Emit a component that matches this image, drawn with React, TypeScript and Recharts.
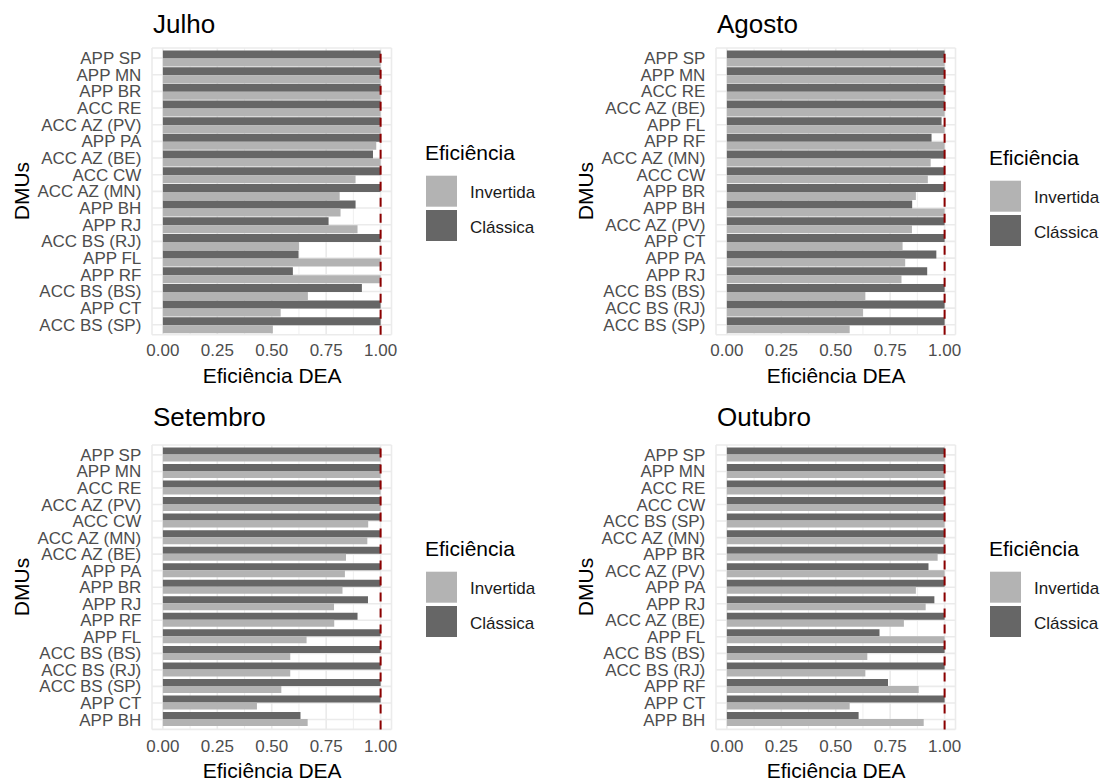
import { Bar, BarChart, CartesianGrid, ReferenceLine, XAxis, YAxis } from "recharts";

const julhoDmus = ["APP SP", "APP MN", "APP BR", "ACC RE", "ACC AZ (PV)", "APP PA", "ACC AZ (BE)", "ACC CW", "ACC AZ (MN)", "APP BH", "APP RJ", "ACC BS (RJ)", "APP FL", "APP RF", "ACC BS (BS)", "APP CT", "ACC BS (SP)"];
const julhoClassica = [1, 1, 1, 1, 1, 1, 0.965, 1, 1, 0.885, 0.761, 1, 0.623, 0.597, 0.914, 1, 1];
const julhoInvertida = [1, 1, 1, 1, 1, 0.98, 1, 0.885, 0.812, 0.816, 0.894, 0.625, 1, 1, 0.666, 0.541, 0.505];

const agostoDmus = ["APP SP", "APP MN", "ACC RE", "ACC AZ (BE)", "APP FL", "APP RF", "ACC AZ (MN)", "ACC CW", "APP BR", "APP BH", "ACC AZ (PV)", "APP CT", "APP PA", "APP RJ", "ACC BS (BS)", "ACC BS (RJ)", "ACC BS (SP)"];
const agostoClassica = [1, 1, 1, 1, 0.986, 0.94, 1, 1, 1, 0.851, 1, 1, 0.962, 0.92, 1, 1, 1];
const agostoInvertida = [1, 1, 1, 1, 1, 1, 0.936, 0.923, 0.868, 1, 0.85, 0.807, 0.819, 0.802, 0.636, 0.625, 0.564];

const setembroDmus = ["APP SP", "APP MN", "ACC RE", "ACC AZ (PV)", "ACC CW", "ACC AZ (MN)", "ACC AZ (BE)", "APP PA", "APP BR", "APP RJ", "APP RF", "APP FL", "ACC BS (BS)", "ACC BS (RJ)", "ACC BS (SP)", "APP CT", "APP BH"];
const setembroClassica = [1, 1, 1, 1, 1, 1, 1, 1, 1, 0.942, 0.894, 1, 1, 1, 1, 1, 0.632];
const setembroInvertida = [1, 1, 1, 1, 0.943, 0.939, 0.841, 0.836, 0.825, 0.786, 0.787, 0.66, 0.585, 0.585, 0.544, 0.432, 0.665];

const outubroDmus = ["APP SP", "APP MN", "ACC RE", "ACC CW", "ACC BS (SP)", "ACC AZ (MN)", "APP BR", "ACC AZ (PV)", "APP PA", "APP RJ", "ACC AZ (BE)", "APP FL", "ACC BS (BS)", "ACC BS (RJ)", "APP RF", "APP CT", "APP BH"];
const outubroClassica = [1, 1, 1, 1, 1, 1, 1, 0.926, 1, 0.953, 1, 0.701, 1, 1, 0.74, 1, 0.605];
const outubroInvertida = [1, 1, 1, 1, 1, 1, 0.968, 1, 0.868, 0.913, 0.813, 1, 0.645, 0.636, 0.881, 0.564, 0.904];

const xTicks = [0, 0.25, 0.5, 0.75, 1];
const minorTicks = [0.125, 0.375, 0.625, 0.875];
const xDomain: [number, number] = [-0.05, 1.05];

const LIGHT = "#b3b3b3";
const DARK = "#666666";
const GRID = "#ebebeb";
const FONT = '"Liberation Sans", Arial, sans-serif';
const Y_AXIS_W = 150;

interface PanelProps {
  title: string;
  dmus: string[];
  classica: number[];
  invertida: number[];
  plotLeft: number;
  plotTop: number;
  plotWidth: number;
  plotHeight: number;
  titleY: number;
  axisTitleY: number;
  tickMargin: number;
  legendDx: number;
  legendDy: number;
}

function Panel(p: PanelProps) {
  const data = p.dmus.map((dmu, i) => ({ dmu, classica: p.classica[i], invertida: p.invertida[i] }));
  const band = p.plotHeight / (p.dmus.length + 0.2);
  const pad = band * 0.1;
  const width = p.plotWidth + Y_AXIS_W + 10;
  const height = p.plotHeight + 10 + 30;
  const centerX = p.plotLeft + p.plotWidth / 2;
  const centerY = p.plotTop + p.plotHeight / 2;

  const minorGen = ({ xAxis, offset }: any) =>
    minorTicks.map((t) =>
      xAxis && typeof xAxis.scale === "function"
        ? xAxis.scale(t)
        : offset.left + ((t - xDomain[0]) / (xDomain[1] - xDomain[0])) * offset.width
    );

  return (
    <>
      <div style={{ position: "absolute", left: p.plotLeft - Y_AXIS_W, top: p.plotTop - 10 }}>
        <BarChart
          width={width}
          height={height}
          data={data}
          layout="vertical"
          barCategoryGap="5%"
          barGap={0}
          margin={{ top: 10, right: 10, bottom: 0, left: 0 }}
        >
          <CartesianGrid horizontal={false} stroke={GRID} strokeWidth={0.8} verticalCoordinatesGenerator={minorGen} />
          <CartesianGrid stroke={GRID} strokeWidth={1.6} />
          <XAxis
            type="number"
            domain={xDomain}
            ticks={xTicks}
            tickFormatter={(v: number) => v.toFixed(2)}
            axisLine={false}
            tickLine={false}
            tickSize={0}
            tickMargin={p.tickMargin}
            height={30}
            tick={{ fill: "#4d4d4d", fontSize: 17 }}
          />
          <YAxis
            type="category"
            dataKey="dmu"
            width={Y_AXIS_W}
            interval={0}
            axisLine={false}
            tickLine={false}
            tickSize={0}
            tickMargin={10.7}
            padding={{ top: pad, bottom: pad }}
            tick={{ fill: "#4d4d4d", fontSize: 17 }}
          />
          <Bar dataKey="classica" name="Clássica" fill={DARK} isAnimationActive={false} />
          <Bar dataKey="invertida" name="Invertida" fill={LIGHT} isAnimationActive={false} />
          <ReferenceLine x={1} stroke="#8b0000" strokeWidth={2} strokeDasharray="9 7" />
        </BarChart>
      </div>
      <svg
        width={1103}
        height={780}
        style={{ position: "absolute", left: 0, top: 0, pointerEvents: "none", fontFamily: FONT }}
      >
        <text x={p.plotLeft + 0.6} y={p.titleY} fontSize={26} fill="#000">
          {p.title}
        </text>
        <text x={centerX} y={p.axisTitleY} fontSize={21} fill="#000" textAnchor="middle">
          Eficiência DEA
        </text>
        <text
          x={p.plotLeft - 123.5}
          y={centerY}
          fontSize={21}
          fill="#000"
          textAnchor="middle"
          transform={`rotate(-90 ${p.plotLeft - 123.5} ${centerY})`}
        >
          DMUs
        </text>
        <g transform={`translate(${p.legendDx} ${p.legendDy})`}>
          <text x={425} y={160} fontSize={21} fill="#000">
            Eficiência
          </text>
          <rect x={426} y={175.7} width={31} height={31} fill={LIGHT} />
          <rect x={426} y={210} width={31} height={31} fill={DARK} />
          <text x={470} y={198.3} fontSize={17} fill="#1a1a1a">
            Invertida
          </text>
          <text x={470} y={232.7} fontSize={17} fill="#1a1a1a">
            Clássica
          </text>
        </g>
      </svg>
    </>
  );
}

export default function App() {
  return (
    <div style={{ position: "absolute", left: 0, top: 0, width: 1103, height: 780, background: "#fff", fontFamily: FONT }}>
      <Panel
        title="Julho"
        dmus={julhoDmus}
        classica={julhoClassica}
        invertida={julhoInvertida}
        plotLeft={152.4}
        plotTop={47.7}
        plotWidth={239.5}
        plotHeight={286.8}
        titleY={33}
        axisTitleY={383.3}
        tickMargin={9.5}
        legendDx={0}
        legendDy={0}
      />
      <Panel
        title="Agosto"
        dmus={agostoDmus}
        classica={agostoClassica}
        invertida={agostoInvertida}
        plotLeft={716.4}
        plotTop={47.7}
        plotWidth={239.5}
        plotHeight={286.8}
        titleY={33}
        axisTitleY={383.3}
        tickMargin={9.5}
        legendDx={564}
        legendDy={5}
      />
      <Panel
        title="Setembro"
        dmus={setembroDmus}
        classica={setembroClassica}
        invertida={setembroInvertida}
        plotLeft={152.4}
        plotTop={444.8}
        plotWidth={239.5}
        plotHeight={284.4}
        titleY={426}
        axisTitleY={777.5}
        tickMargin={10.4}
        legendDx={0}
        legendDy={396}
      />
      <Panel
        title="Outubro"
        dmus={outubroDmus}
        classica={outubroClassica}
        invertida={outubroInvertida}
        plotLeft={716.4}
        plotTop={444.8}
        plotWidth={239.5}
        plotHeight={284.4}
        titleY={426}
        axisTitleY={777.5}
        tickMargin={10.4}
        legendDx={564}
        legendDy={396}
      />
    </div>
  );
}
